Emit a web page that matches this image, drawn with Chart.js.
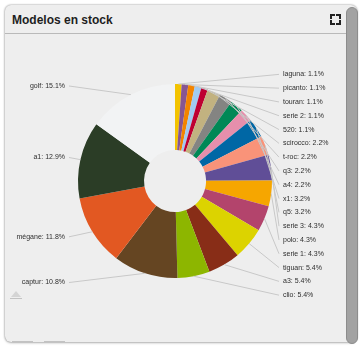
<!DOCTYPE html>
<html>
<head>
<meta charset="utf-8">
<script src="https://cdn.jsdelivr.net/npm/chart.js@4/dist/chart.umd.min.js"></script>
<style>
    html, body { margin: 0; padding: 0; background: #fff; width: 361px; height: 351px; overflow: hidden; }
    .card {
        position: absolute; left: 5px; top: 5px; width: 352px; height: 337px;
        background: #eeeeee; border-radius: 6px;
        box-shadow: 0 0 2px rgba(0,0,0,0.45), 0 1px 3px rgba(0,0,0,0.2);
    }
    .card-header {
        position: absolute; left: 0; top: 0; width: 341px; height: 28px;
        border-bottom: 1px solid #b9b9b9;
    }
    .card-title {
        position: absolute; left: 7px; top: 8px;
        font: bold 12px "Liberation Sans", Arial, sans-serif; color: #1e1e1e;
    }
    .expand { position: absolute; left: 325px; top: 9px; width: 11px; height: 11px; }
    .expand span { position: absolute; width: 3px; height: 3px; border-color: #222; border-style: solid; border-width: 0; }
    .expand .tl { left: 0; top: 0; border-left-width: 2px; border-top-width: 2px; }
    .expand .tr { right: 0; top: 0; border-right-width: 2px; border-top-width: 2px; }
    .expand .bl { left: 0; bottom: 0; border-left-width: 2px; border-bottom-width: 2px; }
    .expand .br { right: 0; bottom: 0; border-right-width: 2px; border-bottom-width: 2px; }
    .scrollbar {
        position: absolute; left: 341px; top: 2px; width: 10px; height: 335px;
        background: #a2a2a2; border: 1px solid #8c8c8c; border-radius: 6px;
    }
    .chart-box { position: absolute; left: 0; top: 29px; width: 340px; height: 300px; }
    .mini { position: absolute; background: #c2c2c2; height: 1px; }
    .tri {
        position: absolute; left: 6px; top: 286px; width: 0; height: 0;
        border-left: 5px solid transparent; border-right: 5px solid transparent;
        border-bottom: 6px solid #d4d4d4;
    }
</style>
</head>
<body>
<div class="card">
    <div class="card-header">
        <div class="card-title">Modelos en stock</div>
        <div class="expand"><span class="tl"></span><span class="tr"></span><span class="bl"></span><span class="br"></span></div>
    </div>
    <div class="chart-box"><canvas id="stockChart"></canvas></div>
    <div class="tri"></div>
    <div class="mini" style="left:5px; top:293px; width:12px;"></div>
    <div class="mini" style="left:7px; top:336px; width:21px;"></div>
    <div class="mini" style="left:39px; top:336px; width:21px;"></div>
    <div class="scrollbar"></div>
</div>

<script>
// Datos (porcentaje de cada modelo en stock)
const modelos = ['laguna', 'picanto', 'touran', 'serie 2', '520', 'scirocco', 't-roc', 'q3', 'a4',
    'x1', 'q5', 'serie 3', 'polo', 'serie 1', 'tiguan', 'a3', 'clio', 'captur', 'mégane', 'a1', 'golf'];
const porcentajes = [1.1, 1.1, 1.1, 1.1, 1.1, 2.2, 2.2, 2.2, 2.2,
    3.2, 3.2, 4.3, 4.3, 4.3, 5.4, 5.4, 5.4, 10.8, 11.8, 12.9, 15.1];
const colores = ['#F3C300', '#875692', '#F38400', '#A1CAF1', '#BE0032', '#C2B280', '#848482', '#008856', '#E68FAC',
    '#0067A5', '#F99379', '#604E97', '#F6A600', '#B3446C', '#DCD300', '#882D17', '#8DB600', '#654522', '#E25822',
    '#2B3D26', '#F2F3F4'];

/**
 * Etiquetas exteriores con líneas guía
 */
const outLabels = {
    id: 'outLabels',
    afterDatasetsDraw(chart) {
        const ctx = chart.ctx;
        const meta = chart.getDatasetMeta(0);
        const values = chart.data.datasets[0].data;
        const lineGap = 13.8;
        const right = [];
        const left = [];

        meta.data.forEach((arc, i) => {
            const p = arc.getProps(['x', 'y', 'startAngle', 'endAngle', 'outerRadius'], true);
            const mid = (p.startAngle + p.endAngle) / 2;
            const item = {
                text: chart.data.labels[i] + ': ' + values[i].toFixed(1) + '%',
                ex: p.x + p.outerRadius * Math.cos(mid),
                ey: p.y + p.outerRadius * Math.sin(mid),
                y: p.y + p.outerRadius * 1.1 * Math.sin(mid),
                cx: p.x,
                r: p.outerRadius
            };
            (Math.cos(mid) >= 0 ? right : left).push(item);
        });

        // Separar las etiquetas para que no se monten
        [right, left].forEach(list => {
            list.sort((a, b) => a.y - b.y);
            for (let k = 1; k < list.length; k++) {
                if (list[k].y < list[k - 1].y + lineGap) {
                    list[k].y = list[k - 1].y + lineGap;
                }
            }
        });

        ctx.save();
        ctx.font = '7px "Liberation Sans", Arial, sans-serif';
        ctx.textBaseline = 'middle';
        ctx.lineWidth = 1;
        ctx.strokeStyle = '#c8c8c8';

        right.forEach(item => {
            const tx = item.cx + item.r + 11;
            ctx.beginPath();
            ctx.moveTo(item.ex, item.ey);
            ctx.lineTo(tx - 4, item.y);
            ctx.stroke();
            ctx.fillStyle = '#2e2e2e';
            ctx.textAlign = 'left';
            ctx.fillText(item.text, tx, item.y);
        });

        left.forEach(item => {
            const tx = item.cx - item.r - 13;
            ctx.beginPath();
            ctx.moveTo(item.ex, item.ey);
            ctx.lineTo(tx + 4, item.y);
            ctx.stroke();
            ctx.fillStyle = '#2e2e2e';
            ctx.textAlign = 'right';
            ctx.fillText(item.text, tx, item.y);
        });
        ctx.restore();
    }
};

new Chart(document.getElementById('stockChart'), {
    type: 'doughnut',
    data: {
        labels: modelos,
        datasets: [{
            data: porcentajes,
            backgroundColor: colores,
            borderWidth: 0
        }]
    },
    options: {
        responsive: true,
        maintainAspectRatio: false,
        animation: false,
        cutout: '32%',
        layout: {
            padding: { left: 73, right: 73, top: 50, bottom: 56 }
        },
        plugins: {
            legend: { display: false },
            tooltip: { enabled: false }
        },
        events: []
    },
    plugins: [outLabels]
});
</script>
</body>
</html>
